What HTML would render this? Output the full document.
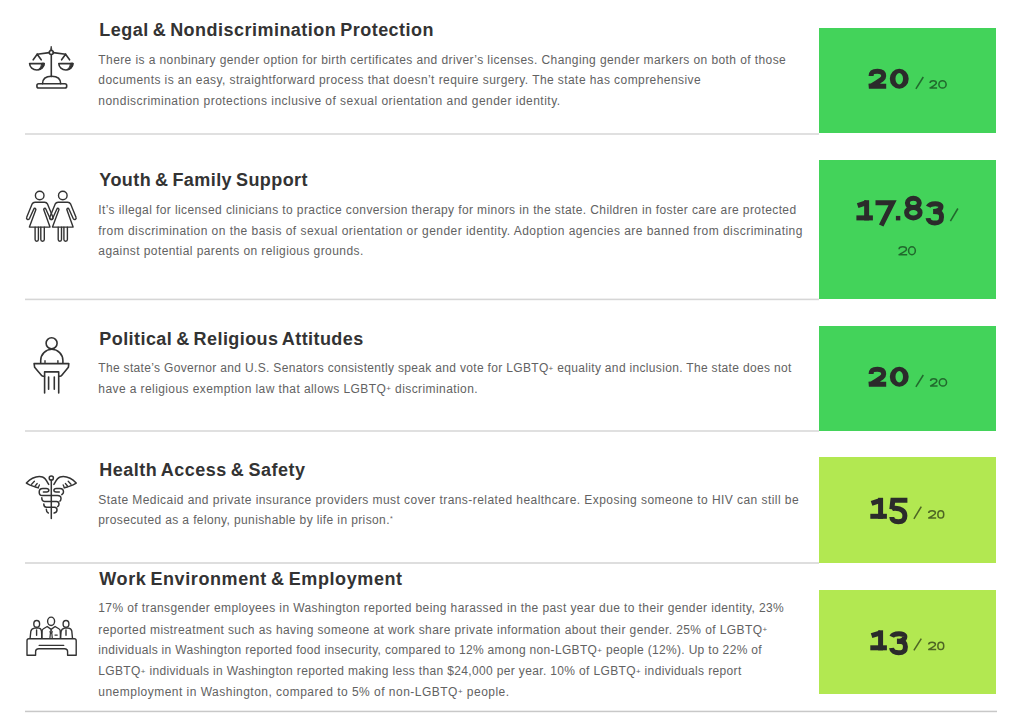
<!DOCTYPE html><html><head><meta charset="utf-8"><style>
html,body{margin:0;padding:0;background:#fff;width:1024px;height:726px;overflow:hidden;position:relative}
.t{position:absolute;white-space:nowrap;line-height:20px;height:20px}
.h{font-family:"Liberation Sans",sans-serif;font-weight:bold;font-size:18px;color:#333;word-spacing:-1.5px}
.p{font-family:"Liberation Sans",sans-serif;font-size:12px;color:#626262}
.sep{position:absolute;left:25px;height:2px;background:#e3e3e3}
.box{position:absolute;left:819px;width:177px}
.pl{font-size:8px;position:relative;top:-1.5px}
.st{font-size:7px;position:relative;top:-3px}
</style></head><body>

<div class="t h" id="e0" style="left:99.3px;top:20.40px;letter-spacing:0.477px"><span id="s0">Legal &amp; Nondiscrimination Protection</span><i id="b0" style="display:inline-block;width:0;height:0"></i></div>
<div class="t p" id="e1" style="left:98.3px;top:49.60px;letter-spacing:0.413px"><span id="s1">There is a nonbinary gender option for birth certificates and driver’s licenses. Changing gender markers on both of those</span><i id="b1" style="display:inline-block;width:0;height:0"></i></div>
<div class="t p" id="e2" style="left:98.3px;top:70.40px;letter-spacing:0.425px"><span id="s2">documents is an easy, straightforward process that doesn’t require surgery. The state has comprehensive</span><i id="b2" style="display:inline-block;width:0;height:0"></i></div>
<div class="t p" id="e3" style="left:98.3px;top:91.40px;letter-spacing:0.474px"><span id="s3">nondiscrimination protections inclusive of sexual orientation and gender identity.</span><i id="b3" style="display:inline-block;width:0;height:0"></i></div>
<div class="t h" id="e4" style="left:99.3px;top:169.50px;letter-spacing:0.433px"><span id="s4">Youth &amp; Family Support</span><i id="b4" style="display:inline-block;width:0;height:0"></i></div>
<div class="t p" id="e5" style="left:98.3px;top:199.90px;letter-spacing:0.401px"><span id="s5">It’s illegal for licensed clinicians to practice conversion therapy for minors in the state. Children in foster care are protected</span><i id="b5" style="display:inline-block;width:0;height:0"></i></div>
<div class="t p" id="e6" style="left:98.3px;top:220.60px;letter-spacing:0.464px"><span id="s6">from discrimination on the basis of sexual orientation or gender identity. Adoption agencies are banned from discriminating</span><i id="b6" style="display:inline-block;width:0;height:0"></i></div>
<div class="t p" id="e7" style="left:98.3px;top:241.20px;letter-spacing:0.423px"><span id="s7">against potential parents on religious grounds.</span><i id="b7" style="display:inline-block;width:0;height:0"></i></div>
<div class="t h" id="e8" style="left:99.3px;top:328.50px;letter-spacing:0.437px"><span id="s8">Political &amp; Religious Attitudes</span><i id="b8" style="display:inline-block;width:0;height:0"></i></div>
<div class="t p" id="e9" style="left:98.3px;top:358.00px;letter-spacing:0.328px"><span id="s9">The state’s Governor and U.S. Senators consistently speak and vote for LGBTQ<span class=pl>+</span> equality and inclusion. The state does not</span><i id="b9" style="display:inline-block;width:0;height:0"></i></div>
<div class="t p" id="e10" style="left:98.3px;top:378.50px;letter-spacing:0.413px"><span id="s10">have a religious exemption law that allows LGBTQ<span class=pl>+</span> discrimination.</span><i id="b10" style="display:inline-block;width:0;height:0"></i></div>
<div class="t h" id="e11" style="left:99.3px;top:460.00px;letter-spacing:0.512px"><span id="s11">Health Access &amp; Safety</span><i id="b11" style="display:inline-block;width:0;height:0"></i></div>
<div class="t p" id="e12" style="left:98.3px;top:489.60px;letter-spacing:0.442px"><span id="s12">State Medicaid and private insurance providers must cover trans-related healthcare. Exposing someone to HIV can still be</span><i id="b12" style="display:inline-block;width:0;height:0"></i></div>
<div class="t p" id="e13" style="left:98.3px;top:510.40px;letter-spacing:0.383px"><span id="s13">prosecuted as a felony, punishable by life in prison.<span class=st>*</span></span><i id="b13" style="display:inline-block;width:0;height:0"></i></div>
<div class="t h" id="e14" style="left:99.3px;top:569.00px;letter-spacing:0.592px"><span id="s14">Work Environment &amp; Employment</span><i id="b14" style="display:inline-block;width:0;height:0"></i></div>
<div class="t p" id="e15" style="left:98.3px;top:598.40px;letter-spacing:0.400px"><span id="s15">17% of transgender employees in Washington reported being harassed in the past year due to their gender identity, 23%</span><i id="b15" style="display:inline-block;width:0;height:0"></i></div>
<div class="t p" id="e16" style="left:98.3px;top:619.50px;letter-spacing:0.407px"><span id="s16">reported mistreatment such as having someone at work share private information about their gender. 25% of LGBTQ<span class=pl>+</span></span><i id="b16" style="display:inline-block;width:0;height:0"></i></div>
<div class="t p" id="e17" style="left:98.3px;top:640.20px;letter-spacing:0.330px"><span id="s17">individuals in Washington reported food insecurity, compared to 12% among non-LGBTQ<span class=pl>+</span> people (12%). Up to 22% of</span><i id="b17" style="display:inline-block;width:0;height:0"></i></div>
<div class="t p" id="e18" style="left:98.3px;top:661.30px;letter-spacing:0.349px"><span id="s18">LGBTQ<span class=pl>+</span> individuals in Washington reported making less than $24,000 per year. 10% of LGBTQ<span class=pl>+</span> individuals report</span><i id="b18" style="display:inline-block;width:0;height:0"></i></div>
<div class="t p" id="e19" style="left:98.3px;top:681.80px;letter-spacing:0.482px"><span id="s19">unemployment in Washington, compared to 5% of non-LGBTQ<span class=pl>+</span> people.</span><i id="b19" style="display:inline-block;width:0;height:0"></i></div>
<svg style="position:absolute;left:0;top:0" width="1024" height="726"><rect x="25" y="133" width="794" height="2" fill="#e0e0e0"/><rect x="25" y="298.6" width="794" height="1.6" fill="#d6d6d6"/><rect x="25" y="430" width="794" height="2" fill="#e0e0e0"/><rect x="25" y="562" width="794" height="2" fill="#dedede"/><rect x="25" y="710.7" width="972" height="1.5" fill="#c8c8c8"/></svg>
<div class="box" style="top:28px;height:105px;background:#43d35a"></div>
<div class="box" style="top:160px;height:139px;background:#43d35a"></div>
<div class="box" style="top:325.5px;height:105.5px;background:#43d35a"></div>
<div class="box" style="top:457px;height:106px;background:#b2e851"></div>
<div class="box" style="top:589.6px;height:104.0px;background:#b2e851"></div>
<svg style="position:absolute;left:0;top:0" width="90" height="726" viewBox="0 0 90 726" fill="none" stroke="#333" stroke-width="1.6" stroke-linecap="round" stroke-linejoin="round">
<!-- scales -->
<g>
<path d="M51.3,46.6 L52,50.5 L50.6,50.5 Z" fill="#333" stroke-width="0.8"/>
<circle cx="51.3" cy="52.5" r="2"/>
<path d="M37.2,54.2 L49.3,52.6 M53.3,52.6 L65.6,54.2"/>
<path d="M37.2,54.2 L33.2,59.8 M37.2,54.2 L41.2,59.8 M65.6,54.2 L61.6,59.8 M65.6,54.2 L69.6,59.8"/>
<path d="M29.6,63.6 H44.2 A7.3,6.4 0 0 1 29.6,63.6 Z"/>
<path d="M58.8,63.6 H73.0 A7.1,6.4 0 0 1 58.8,63.6 Z"/>
<path d="M44.2,63.6 A7.3,6.4 0 0 1 38,69.9 Q41.6,67.5 41.8,63.6 Z" fill="#333" stroke-width="1"/>
<path d="M73.0,63.6 A7.1,6.4 0 0 1 66.8,69.9 Q70.4,67.5 70.6,63.6 Z" fill="#333" stroke-width="1"/>
<path d="M51.3,54.6 V76.6"/>
<path d="M42.5,83.8 C42.5,79 46,76.2 51.6,76.2 C57.2,76.2 60.7,79 60.7,83.8"/>
<rect x="36.9" y="83.8" width="29.8" height="4.2" rx="1.8"/>
</g>
<!-- women -->
<g stroke-width="1.4">
<g>
<circle cx="39.7" cy="195.5" r="4.3"/>
<path d="M29.4,227.1 L35.9,209.6 Q35.7,208.2 34.7,208.3 Q34.1,208.4 33.8,209 L29.6,218.3 Q28.6,220 27.3,219.4 Q26.1,218.6 26.7,217.3 L32,204.2 Q33,202.3 35,202.3 L44.6,202.3 Q46.6,202.3 47.6,204.2 L52.9,217.3 Q53.5,218.6 52.3,219.4 Q51,220 50,218.3 L45.8,209 Q45.5,208.4 44.9,208.3 Q43.9,208.2 43.7,209.6 L50.0,227.1 Z"/>
<path d="M35.1,227.1 V239.6 Q35.1,241.2 36.75,241.2 Q38.4,241.2 38.4,239.6 V227.1"/>
<path d="M40.8,227.1 V239.6 Q40.8,241.2 42.55,241.2 Q44.3,241.2 44.3,239.6 V227.1"/>
</g>
<g transform="translate(23.1,0)">
<circle cx="39.7" cy="195.5" r="4.3"/>
<path d="M29.4,227.1 L35.9,209.6 Q35.7,208.2 34.7,208.3 Q34.1,208.4 33.8,209 L29.6,218.3 Q28.6,220 27.3,219.4 Q26.1,218.6 26.7,217.3 L32,204.2 Q33,202.3 35,202.3 L44.6,202.3 Q46.6,202.3 47.6,204.2 L52.9,217.3 Q53.5,218.6 52.3,219.4 Q51,220 50,218.3 L45.8,209 Q45.5,208.4 44.9,208.3 Q43.9,208.2 43.7,209.6 L50.0,227.1 Z"/>
<path d="M35.1,227.1 V239.6 Q35.1,241.2 36.75,241.2 Q38.4,241.2 38.4,239.6 V227.1"/>
<path d="M40.8,227.1 V239.6 Q40.8,241.2 42.55,241.2 Q44.3,241.2 44.3,239.6 V227.1"/>
</g>

</g>
<!-- podium -->
<g>
<circle cx="51.6" cy="343.2" r="5.5"/>
<path d="M40.7,362.8 V360.5 A11.1,11.2 0 0 1 62.9,360.5 V362.8"/>
<path d="M45,360.8 V362.6 M57.9,360.8 V362.6" stroke-width="1.4"/>
<path d="M44.5,376.3 H43.2 Q42.2,376.3 41.6,375.6 L34.6,367.2 L34.1,363.6 H68.8 L68.4,367.2 L61.6,375.6 Q61,376.3 60,376.3 H58.7"/>
<path d="M44.6,393 V371.9 H58.7 V393"/>
<path d="M48.6,377 V389.3 M54.3,377 V389.3"/>
</g>
<!-- caduceus -->
<g stroke-width="1.5">
<circle cx="51.3" cy="478" r="2.1"/>
<path d="M51.3,480.2 V518.6"/>
<path d="M48.7,484.4 C47.5,482.5 45.8,478.2 42.5,477 C40,476.2 36,476.6 32.5,478.2 C30,479.3 27.8,481.5 26.4,483.1 C28.5,484.6 31,485.6 33.5,486.4 C35.5,487 37,487.6 38.3,487.8"/>
<path d="M34.4,481.3 L31.6,484.2 M37.2,483.5 L35.1,486 M39.4,484.9 L38.3,487.6" stroke-width="1.3"/>
<path d="M53.9,484.4 C55.1,482.5 56.8,478.2 60.1,477 C62.6,476.2 66.6,476.6 70.1,478.2 C72.6,479.3 74.8,481.5 76.2,483.1 C74.1,484.6 71.6,485.6 69.1,486.4 C67.1,487 65.6,487.6 64.3,487.8"/>
<path d="M68.2,481.3 L71,484.2 M65.4,483.5 L67.5,486 M63.2,484.9 L64.3,487.6" stroke-width="1.3"/>
<path d="M51.3,495.5 H42.2 C40.2,495.5 39.2,493.6 39.2,491.9 C39.2,490 40.6,488.4 42.8,488.4 H46.3 C48,488.4 48.8,489.4 48.8,490.3 C48.8,491.3 48,492 46.6,492 H43.4"/>
<path d="M61.8,494.6 C62.8,493.8 63.5,493 63.5,491.9 C63.5,490 62.1,488.4 59.9,488.4 H56.4 C54.7,488.4 53.9,489.4 53.9,490.3 C53.9,491.3 54.7,492 56.1,492 H59.3"/>
<path d="M51.3,495.5 H57.5 C59.8,495.5 61,497 61,498.5 C61,499.8 60.6,500.6 59.9,501.1"/>
<path d="M41.8,497.8 C41.8,500 42.5,501.4 44.5,501.4 H56.5 C58,501.4 59,502.5 59,504 C59,505.2 58.4,506.2 57.6,506.7"/>
<path d="M43.8,504 C43.8,505.8 44.8,507.2 46.5,507.2 H54.5 C56,507.2 57,508.4 57,510 C57,511.5 55.8,512.6 54.1,513"/>
<path d="M46.3,509.3 C46.3,511.2 47,512.5 48.3,513"/>
</g>
<!-- meeting -->
<g stroke-width="1.4">
<ellipse cx="36.7" cy="623.9" rx="2.9" ry="3.4"/>
<ellipse cx="51.1" cy="621.3" rx="3.5" ry="4.2"/>
<ellipse cx="66" cy="623.9" rx="2.9" ry="3.4"/>
<path d="M30.1,638.2 L30.8,631.5 Q31.2,628.6 34.5,628.1 H38.9 Q41.1,628.3 41.5,631.2 L41.9,638.2"/>
<path d="M36.6,630 V635.2"/>
<path d="M41.7,638.2 L42.1,630.6 Q42.2,629.5 43.1,629 L47.2,626.5 L51.1,629.4 L55.1,626.5 L59.2,629 Q60.1,629.5 60.2,630.6 L60.6,638.2"/>
<path d="M51.1,630.4 L52.3,631.9 L51.1,633.3 L49.9,631.9 Z" stroke-width="1.2"/>
<path d="M50.4,633.2 L49.9,638.2 M51.8,633.2 L52.3,638.2" stroke-width="1.2"/>
<path d="M55,635.1 H57.2" stroke-width="1.3"/>
<path d="M60.4,638.2 L61.1,631.5 Q61.5,628.6 64.8,628.1 H68.2 Q71.4,628.3 71.8,631.2 L72.5,638.2"/>
<path d="M66,630 V635.2"/>
<path d="M28.9,638.8 H74.4 Q76.2,638.8 76.2,640.8 V655.3 H67.6 V651.5 Q67.6,648.7 64.5,648.7 H38.8 Q35.6,648.7 35.6,651.5 V655.3 H27 V640.8 Q27,638.8 28.9,638.8 Z"/>
<path d="M39.2,645.4 H63.7"/>
</g>
</svg>

<svg style="position:absolute;left:0;top:0" width="1024" height="726" viewBox="0 0 1024 726">
<g fill="none" stroke="#2b2b2b" stroke-width="5.0" stroke-linecap="butt">
<path d="M871.10,76.00 C871.10,71.50 873.87,71.20 877.40,71.20 C881.18,71.20 883.70,72.70 883.70,76.00 C883.70,79.00 880.55,80.20 872.11,85.60 L868.90,86.20 H886.20" stroke-linejoin="miter"/>
<path fill="#2b2b2b" stroke="none" fill-rule="evenodd" d="M889.80,78.70 A9.45,10.00 0 1 0 908.70,78.70 A9.45,10.00 0 1 0 889.80,78.70 Z M895.47,78.70 A3.78,5.70 0 1 0 903.03,78.70 A3.78,5.70 0 1 0 895.47,78.70 Z"/>
</g>
<g fill="none" stroke="rgba(0,0,0,0.5)" stroke-width="1.55" stroke-linecap="butt">
<path d="M923.30,77.00 L915.90,88.80"/>
<path d="M930.07,83.09 C930.07,80.92 931.45,80.78 933.20,80.78 C935.08,80.78 936.33,81.50 936.33,83.09 C936.33,84.55 934.76,85.12 930.57,87.73 L929.60,88.02 H937.10" stroke-linejoin="miter"/>
<ellipse cx="942.50" cy="84.40" rx="3.62" ry="3.62"/>
</g>
<g fill="none" stroke="#2b2b2b" stroke-width="5.0" stroke-linecap="butt">
<path d="M866.63,200.20 V220.40"/><path d="M857.65,205.65 L866.63,202.70" stroke-linecap="butt"/><path d="M856.40,217.90 H872.90"/>
<path d="M875.50,202.70 H892.60 L881.21,225.50" stroke-linejoin="miter"/>
<rect x="895.90" y="215.90" width="4.40" height="4.50" fill="#2b2b2b" stroke="none"/>
<ellipse cx="913.35" cy="202.91" rx="5.94" ry="4.61"/><ellipse cx="913.35" cy="212.71" rx="6.75" ry="5.19"/>
<path d="M928.30,206.76 C929.88,202.70 941.24,202.50 940.97,206.76 C940.71,210.01 936.88,211.43 933.32,211.43"/><path d="M933.32,211.43 C941.76,211.43 941.50,214.47 941.50,217.11 C941.50,222.59 938.20,223.00 934.90,223.00 C931.20,223.00 928.30,220.97 928.04,218.13"/>
</g>
<g fill="none" stroke="rgba(0,0,0,0.5)" stroke-width="1.55" stroke-linecap="butt">
<path d="M957.90,208.50 L950.40,221.20"/>
<path d="M899.07,249.32 C899.07,246.93 900.69,246.78 902.75,246.78 C904.96,246.78 906.43,247.57 906.43,249.32 C906.43,250.91 904.59,251.54 899.66,254.41 L898.60,254.72 H907.20" stroke-linejoin="miter"/>
<ellipse cx="911.95" cy="250.75" rx="3.38" ry="3.97"/>
</g>
<g fill="none" stroke="#2b2b2b" stroke-width="5.0" stroke-linecap="butt">
<path d="M871.10,374.00 C871.10,369.50 873.87,369.20 877.40,369.20 C881.18,369.20 883.70,370.70 883.70,374.00 C883.70,377.00 880.55,378.20 872.11,383.60 L868.90,384.20 H886.20" stroke-linejoin="miter"/>
<path fill="#2b2b2b" stroke="none" fill-rule="evenodd" d="M889.80,376.70 A9.45,10.00 0 1 0 908.70,376.70 A9.45,10.00 0 1 0 889.80,376.70 Z M895.47,376.70 A3.78,5.70 0 1 0 903.03,376.70 A3.78,5.70 0 1 0 895.47,376.70 Z"/>
</g>
<g fill="none" stroke="rgba(0,0,0,0.5)" stroke-width="1.55" stroke-linecap="butt">
<path d="M923.30,375.00 L915.90,386.80"/>
<path d="M930.57,381.09 C930.57,378.92 931.95,378.77 933.70,378.77 C935.58,378.77 936.83,379.50 936.83,381.09 C936.83,382.55 935.26,383.12 931.07,385.74 L930.10,386.03 H937.60" stroke-linejoin="miter"/>
<ellipse cx="942.90" cy="382.40" rx="3.62" ry="3.63"/>
</g>
<g fill="none" stroke="#2b2b2b" stroke-width="5.0" stroke-linecap="butt">
<path d="M880.59,497.80 V518.80"/><path d="M871.55,503.47 L880.59,500.30" stroke-linecap="butt"/><path d="M870.30,516.30 H886.90"/>
<path d="M907.40,500.30 H892.85 L891.80,509.29" stroke-linejoin="miter"/><path d="M891.80,508.86 C894.42,507.58 904.90,508.00 904.90,515.71 C904.90,521.70 900.31,521.70 898.35,521.70 C893.76,521.70 891.80,519.56 891.80,516.99"/>
</g>
<g fill="none" stroke="rgba(0,0,0,0.56)" stroke-width="1.55" stroke-linecap="butt">
<path d="M921.30,506.60 L913.90,518.80"/>
<path d="M928.67,513.10 C928.67,510.92 930.16,510.77 932.05,510.77 C934.08,510.77 935.43,511.50 935.43,513.10 C935.43,514.54 933.74,515.12 929.21,517.74 L928.20,518.02 H936.20" stroke-linejoin="miter"/>
<ellipse cx="940.80" cy="514.40" rx="2.93" ry="3.62"/>
</g>
<g fill="none" stroke="#2b2b2b" stroke-width="5.0" stroke-linecap="butt">
<path d="M880.59,630.30 V650.30"/><path d="M871.55,635.70 L880.59,632.80" stroke-linecap="butt"/><path d="M870.30,647.80 H886.90"/>
<path d="M891.80,636.78 C893.43,632.80 905.13,632.60 904.86,636.78 C904.58,639.96 900.64,641.36 896.97,641.36"/><path d="M896.97,641.36 C905.67,641.36 905.40,644.34 905.40,646.93 C905.40,652.30 902.00,652.70 898.60,652.70 C894.79,652.70 891.80,650.71 891.53,647.92"/>
</g>
<g fill="none" stroke="rgba(0,0,0,0.56)" stroke-width="1.55" stroke-linecap="butt">
<path d="M921.30,638.60 L913.90,650.30"/>
<path d="M928.67,644.60 C928.67,642.42 930.16,642.27 932.05,642.27 C934.08,642.27 935.43,643.00 935.43,644.60 C935.43,646.04 933.74,646.62 929.21,649.24 L928.20,649.52 H936.20" stroke-linejoin="miter"/>
<ellipse cx="940.80" cy="645.90" rx="2.93" ry="3.62"/>
</g>
</svg>
</body></html>
